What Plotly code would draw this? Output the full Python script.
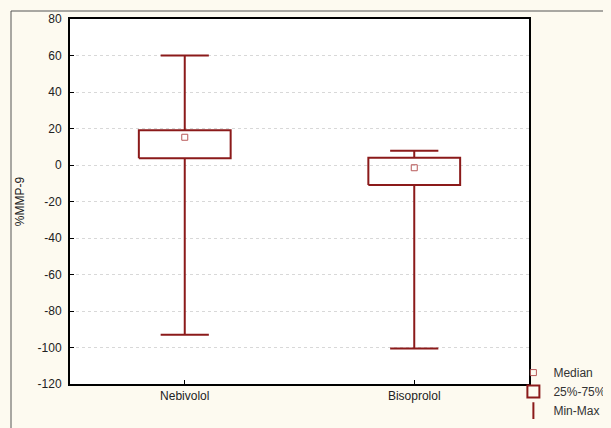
import plotly.graph_objects as go

groups = ["Nebivolol", "Bisoprolol"]
minimum = [-93, -100.5]
q1 = [3.7, -11]
median = [15.2, -1.5]
q3 = [19.0, 4.0]
maximum = [60, 7.8]

y_ticks = list(range(-120, 81, 20))
y_tick_labels = [str(v) for v in y_ticks]

RED = "#8B1A1A"
MED = "#B85A5A"
BG = "#FDFAF0"
BOX_HW = 0.2
CAP_HW = 0.105

fig = go.Figure()

for i, g in enumerate(groups):
    fig.add_trace(go.Scatter(
        x=[i, i, None, i, i], y=[q3[i], maximum[i], None, q1[i], minimum[i]],
        mode="lines", line=dict(color=RED, width=2), showlegend=False, hoverinfo="skip"))
    fig.add_trace(go.Scatter(
        x=[i - CAP_HW, i + CAP_HW, None, i - CAP_HW, i + CAP_HW],
        y=[maximum[i], maximum[i], None, minimum[i], minimum[i]],
        mode="lines", line=dict(color=RED, width=2), showlegend=False, hoverinfo="skip"))
    fig.add_trace(go.Scatter(
        x=[i - BOX_HW, i + BOX_HW, i + BOX_HW, i - BOX_HW, i - BOX_HW],
        y=[q1[i], q1[i], q3[i], q3[i], q1[i]],
        mode="lines", line=dict(color=RED, width=2), showlegend=False, hoverinfo="skip"))

fig.add_trace(go.Scatter(
    x=list(range(len(groups))), y=median, mode="markers", name="Median",
    marker=dict(symbol="square-open", size=6, color=MED, line=dict(width=1, color=MED))))
fig.add_trace(go.Scatter(
    x=[None], y=[None], mode="markers", name="25%-75%",
    marker=dict(symbol="square-open", size=12, color=RED, line=dict(width=2, color=RED))))
fig.add_trace(go.Scatter(
    x=[None], y=[None], mode="markers", name="Min-Max",
    marker=dict(symbol="line-ns-open", size=12, color=RED, line=dict(width=2, color=RED))))

fig.update_layout(
    width=611, height=428,
    margin=dict(l=62, r=90, t=11, b=52, autoexpand=False),
    paper_bgcolor=BG,
    plot_bgcolor="white",
    font=dict(family="Liberation Sans, Arial, sans-serif", size=12, color="#222"),
    showlegend=True,
    legend=dict(x=0.966, y=0.071, xanchor="left", yanchor="top",
                bgcolor="rgba(0,0,0,0)", font=dict(size=12, color="#333"),
                tracegroupgap=0, itemwidth=30),
    xaxis=dict(range=[-0.5, 1.5], tickvals=list(range(len(groups))), ticktext=groups,
               showgrid=False, zeroline=False, showline=True, linecolor="black", linewidth=2,
               mirror=True, ticks="inside", ticklen=4, tickcolor="black", fixedrange=True),
    yaxis=dict(range=[-120, 80], tickvals=y_ticks, ticktext=y_tick_labels,
               showgrid=True, gridcolor="#D8D8D8",
               griddash="dot", gridwidth=1, zeroline=False, showline=True, linecolor="black",
               linewidth=2, mirror=True, ticks="inside", ticklen=4, tickcolor="black",
               ticklabelstandoff=4,
               title=dict(text="%MMP-9", standoff=10, font=dict(size=12)), fixedrange=True),
    shapes=[dict(type="rect", xref="paper", yref="paper",
                 x0=(11 - 70) / 459, x1=(640 - 70) / 459,
                 y0=(384 - 460) / 365, y1=(384 - 11) / 365,
                 line=dict(color="#555", width=1), layer="below")],
)

fig.write_html("out.html",
               post_script="document.body.style.background='%s';" % BG)
